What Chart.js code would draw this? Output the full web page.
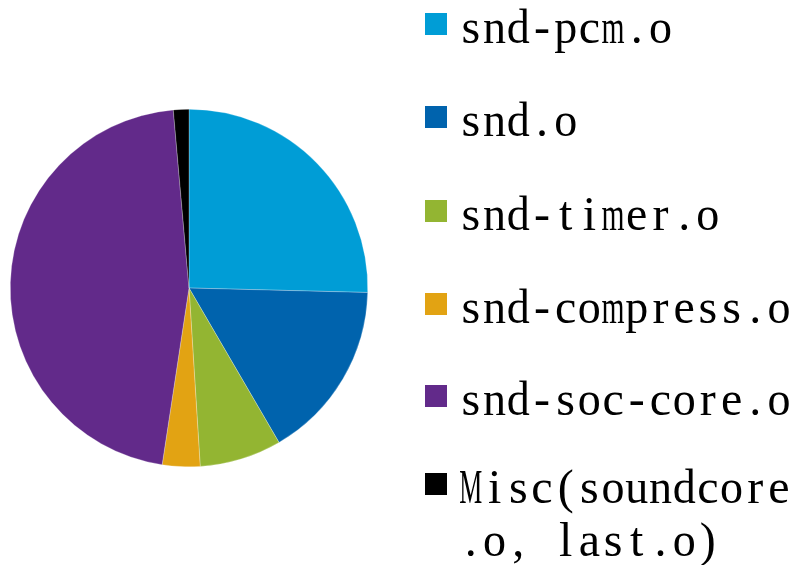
<!DOCTYPE html>
<html>
<head>
<meta charset="utf-8">
<script src="https://cdn.jsdelivr.net/npm/chart.js@4"></script>
<style>
  html, body { margin: 0; padding: 0; background: #fff; }
  #wrap { width: 798px; height: 565px; }
</style>
</head>
<body>
<div id="wrap"><canvas id="pieChart" width="798" height="565"></canvas></div>
<script>
// dados (percentuais aproximados)
const labels = ['snd-pcm.o', 'snd.o', 'snd-timer.o', 'snd-compress.o', 'snd-soc-core.o', 'Misc(soundcore.o, last.o)'];
const values = [25.4, 16.2, 7.4, 3.4, 46.2, 1.4];
const colors = ['#009dd6', '#0063ad', '#93b532', '#e2a313', '#622a8a', '#000000'];

const legendFont = '48px "Liberation Serif"';

// legenda desenhada à mão, com espaçamento fixo por caractere
const legendPlugin = {
    id: 'monoLegend',
    afterDraw(chart) {
        const c = chart.ctx;
        const cell = 23.7;
        const x0 = 425, textX = 459;
        const rowTops = [13, 106, 200, 293, 385, 473];
        const maxChars = 14;
        c.save();
        c.font = legendFont + ', serif';
        c.textBaseline = 'alphabetic';
        c.textAlign = 'center';
        labels.forEach((lab, i) => {
            const top = rowTops[i];
            c.fillStyle = colors[i];
            c.fillRect(x0, top, 22, 22);
            c.fillStyle = '#000';
            const lines = [];
            for (let k = 0; k < lab.length; k += maxChars) lines.push(lab.slice(k, k + maxChars));
            lines.forEach((ln, li) => {
                const base = top + 30 + li * 53;
                for (let j = 0; j < ln.length; j++) {
                    const ch = ln[j];
                    const w = c.measureText(ch).width;
                    const cx = textX + j * cell + cell / 2;
                    const s = w > 23 ? 23 / w : 1;
                    c.save();
                    c.translate(cx, base);
                    c.scale(s, 1);
                    c.fillText(ch, 0, 0);
                    c.restore();
                }
            });
        });
        c.restore();
    }
};

function draw() {
    const ctx = document.getElementById('pieChart').getContext('2d');
    new Chart(ctx, {
        type: 'pie',
        data: {
            labels: labels,
            datasets: [{
                data: values,
                backgroundColor: colors,
                borderColor: 'rgba(255,255,255,0.5)',
                borderWidth: 0.5
            }]
        },
        options: {
            responsive: false,
            animation: false,
            layout: { padding: { left: 10, right: 430, top: 109, bottom: 98 } },
            plugins: {
                legend: { display: false },
                tooltip: { enabled: false }
            }
        },
        plugins: [legendPlugin]
    });
}

document.fonts.load(legendFont).then(draw, draw);
</script>
</body>
</html>
